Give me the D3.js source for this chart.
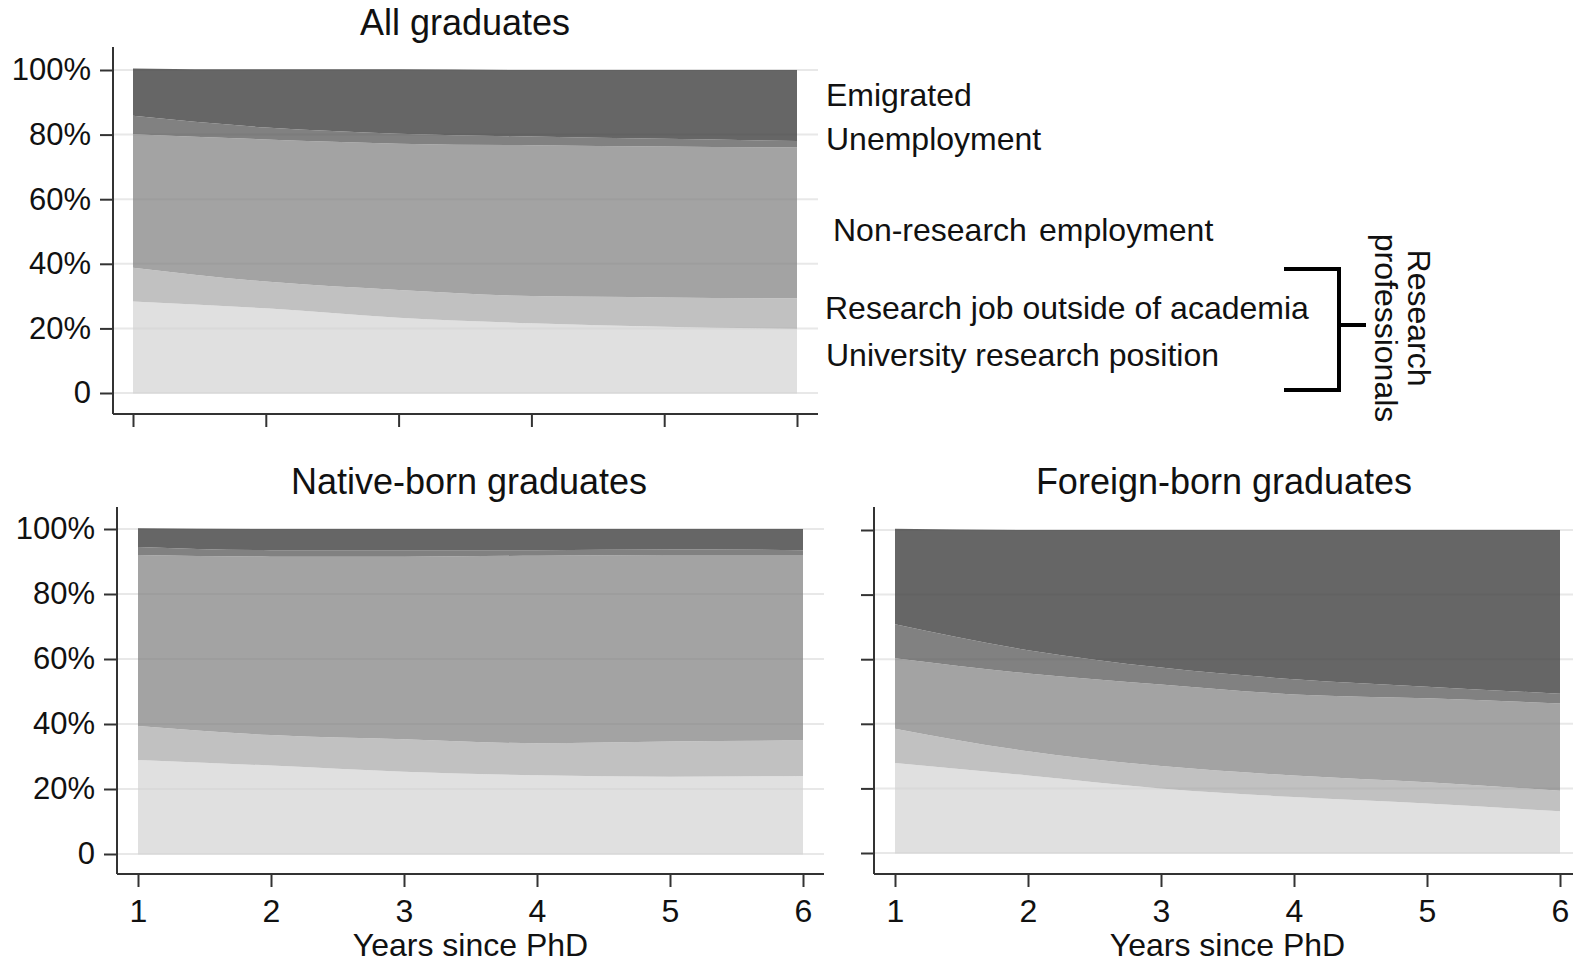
<!DOCTYPE html>
<html>
<head>
<meta charset="utf-8">
<script src="https://cdn.jsdelivr.net/npm/d3@7"></script>
<style>
  html, body { margin: 0; padding: 0; background: #fff; }
  svg { display: block; font-family: "Liberation Sans", Arial, sans-serif; }
</style>
</head>
<body>
<svg id="chart" width="1573" height="962"></svg>
<script>
// ---------------- DATA ----------------
const years = [1, 2, 3, 4, 5, 6];
const categories = [
  "University research position",
  "Research job outside of academia",
  "Non-research employment",
  "Unemployment",
  "Emigrated"
];
const yTicks = [0, 20, 40, 60, 80, 100];

// All graduates (shares, %)
const allUniversity   = [28.3, 26.2, 23.3, 21.6, 20.5, 19.9];
const allResearchOut  = [10.5, 8.3, 8.6, 8.4, 9.1, 9.4];
const allNonResearch  = [41.3, 44.0, 45.3, 46.7, 46.7, 46.7];
const allUnemployment = [5.7, 3.7, 3.1, 2.7, 2.4, 2.0];
const allEmigrated    = [14.7, 18.0, 19.9, 20.6, 21.3, 22.0];

// Native-born graduates
const natUniversity   = [28.9, 27.2, 25.3, 24.2, 23.8, 24.0];
const natResearchOut  = [10.5, 9.4, 10.0, 9.9, 10.8, 10.9];
const natNonResearch  = [52.6, 54.9, 56.2, 57.7, 57.4, 57.1];
const natUnemployment = [2.5, 2.0, 2.0, 1.7, 1.7, 1.5];
const natEmigrated    = [5.7, 6.5, 6.5, 6.5, 6.3, 6.5];

// Foreign-born graduates
const forUniversity   = [27.9, 24.0, 20.0, 17.3, 15.3, 12.9];
const forResearchOut  = [10.6, 7.5, 6.9, 6.7, 6.6, 6.4];
const forNonResearch  = [21.8, 24.1, 25.3, 25.1, 26.0, 27.0];
const forUnemployment = [10.5, 7.2, 5.2, 4.7, 3.6, 3.0];
const forEmigrated    = [29.6, 37.2, 42.6, 46.2, 48.5, 50.7];

// ---------------- STYLE / LAYOUT ----------------
const colors = ["#e0e0e0", "#c1c1c1", "#a3a3a3", "#818181", "#666666"];
const TICKFONT = 31;
const LABELFONT = 32;
const TITLEFONT = 36;

function toRows(u, r, n, un, e) {
  return years.map((y, i) => ({
    year: y,
    [categories[0]]: u[i],
    [categories[1]]: r[i],
    [categories[2]]: n[i],
    [categories[3]]: un[i],
    [categories[4]]: e[i]
  }));
}

const panels = [
  { title: "All graduates", rows: toRows(allUniversity, allResearchOut, allNonResearch, allUnemployment, allEmigrated),
    x0: 133, x1: 797, yTop: 70, yBot: 393, axisX: 113, axisTop: 47, axisY: 414, xEnd: 818,
    yLabels: true, xLabels: false, titleX: 465, titleY: 35 },
  { title: "Native-born graduates", rows: toRows(natUniversity, natResearchOut, natNonResearch, natUnemployment, natEmigrated),
    x0: 138, x1: 803, yTop: 529, yBot: 854, axisX: 117, axisTop: 507, axisY: 874, xEnd: 824,
    yLabels: true, xLabels: true, titleX: 469, titleY: 494 },
  { title: "Foreign-born graduates", rows: toRows(forUniversity, forResearchOut, forNonResearch, forUnemployment, forEmigrated),
    x0: 895, x1: 1560, yTop: 530, yBot: 853, axisX: 874, axisTop: 507, axisY: 874, xEnd: 1573,
    yLabels: false, xLabels: true, titleX: 1224, titleY: 494 }
];

const svg = d3.select("#chart");
const stack = d3.stack().keys(categories);

panels.forEach(p => {
  const g = svg.append("g");
  const x = d3.scaleLinear().domain([1, 6]).range([p.x0, p.x1]);
  const y = d3.scaleLinear().domain([0, 100]).range([p.yBot, p.yTop]);

  // gridlines under
  g.append("g").selectAll("line").data(yTicks).join("line")
    .attr("x1", p.axisX).attr("x2", p.xEnd)
    .attr("y1", d => y(d)).attr("y2", d => y(d))
    .attr("stroke", "#e8e8e8").attr("stroke-width", 2);

  const series = stack(p.rows);
  const area = d3.area()
    .x(d => x(d.data.year))
    .y0(d => y(d[0]))
    .y1(d => y(d[1]))
    .curve(d3.curveMonotoneX);

  g.append("g").selectAll("path").data(series).join("path")
    .attr("d", area)
    .attr("fill", (d, i) => colors[i]);

  // faint gridlines over areas
  g.append("g").selectAll("line").data(yTicks).join("line")
    .attr("x1", p.x0).attr("x2", p.x1)
    .attr("y1", d => y(d)).attr("y2", d => y(d))
    .attr("stroke", "#000").attr("stroke-opacity", 0.03).attr("stroke-width", 2);

  // y axis
  const yAxis = d3.axisLeft(y).tickValues(yTicks).tickSize(13).tickPadding(9)
    .tickFormat(d => p.yLabels ? (d === 0 ? "0" : d + "%") : "");
  const ya = g.append("g").attr("transform", `translate(${p.axisX},0)`).call(yAxis);
  ya.select(".domain").remove();
  ya.selectAll("line").attr("stroke", "#333").attr("stroke-width", 2);
  ya.selectAll("text").attr("font-size", TICKFONT).attr("fill", "#111")
    .attr("font-family", "Liberation Sans, Arial, sans-serif");

  // x axis
  const xAxis = d3.axisBottom(x).tickValues(years).tickSize(13).tickPadding(12)
    .tickFormat(d => p.xLabels ? d3.format("d")(d) : "");
  const xa = g.append("g").attr("transform", `translate(0,${p.axisY})`).call(xAxis);
  xa.select(".domain").remove();
  xa.selectAll("line").attr("stroke", "#333").attr("stroke-width", 2);
  xa.selectAll("text").attr("font-size", LABELFONT).attr("fill", "#111")
    .attr("font-family", "Liberation Sans, Arial, sans-serif");

  // axis lines
  g.append("line").attr("x1", p.axisX).attr("x2", p.axisX)
    .attr("y1", p.axisTop).attr("y2", p.axisY)
    .attr("stroke", "#333").attr("stroke-width", 2);
  g.append("line").attr("x1", p.axisX).attr("x2", p.xEnd)
    .attr("y1", p.axisY).attr("y2", p.axisY)
    .attr("stroke", "#333").attr("stroke-width", 2);

  // title
  g.append("text").attr("x", p.titleX).attr("y", p.titleY)
    .attr("text-anchor", "middle").attr("font-size", TITLEFONT).attr("fill", "#111")
    .text(p.title);

  if (p.xLabels) {
    g.append("text").attr("x", (p.x0 + p.x1) / 2).attr("y", 956)
      .attr("text-anchor", "middle").attr("font-size", LABELFONT).attr("fill", "#111")
      .text("Years since PhD");
  }
});

// ---------------- LABELS (top panel, right side) ----------------
const labelTexts = ["Emigrated", "Unemployment", "Non-research",
                    "Research job outside of academia", "University research position", "employment"];
const labelPos = [[826, 106], [826, 150], [833, 241], [825, 319], [826, 366], [1039, 241]];
svg.append("g").selectAll("text").data(labelTexts).join("text")
  .attr("x", (d, i) => labelPos[i][0]).attr("y", (d, i) => labelPos[i][1])
  .attr("font-size", LABELFONT).attr("fill", "#111")
  .text(d => d);

// bracket
const br = svg.append("g").attr("stroke", "#000").attr("stroke-width", 4).attr("fill", "none");
br.append("path").attr("d", "M1284,269 H1339 V390 H1284");
br.append("line").attr("x1", 1339).attr("x2", 1366).attr("y1", 325).attr("y2", 325);

svg.append("text").attr("transform", "translate(1408,318) rotate(90)")
  .attr("text-anchor", "middle").attr("font-size", LABELFONT).attr("fill", "#111")
  .text("Research");
svg.append("text").attr("transform", "translate(1375,328) rotate(90)")
  .attr("text-anchor", "middle").attr("font-size", LABELFONT).attr("fill", "#111")
  .text("professionals");
</script>
</body>
</html>
